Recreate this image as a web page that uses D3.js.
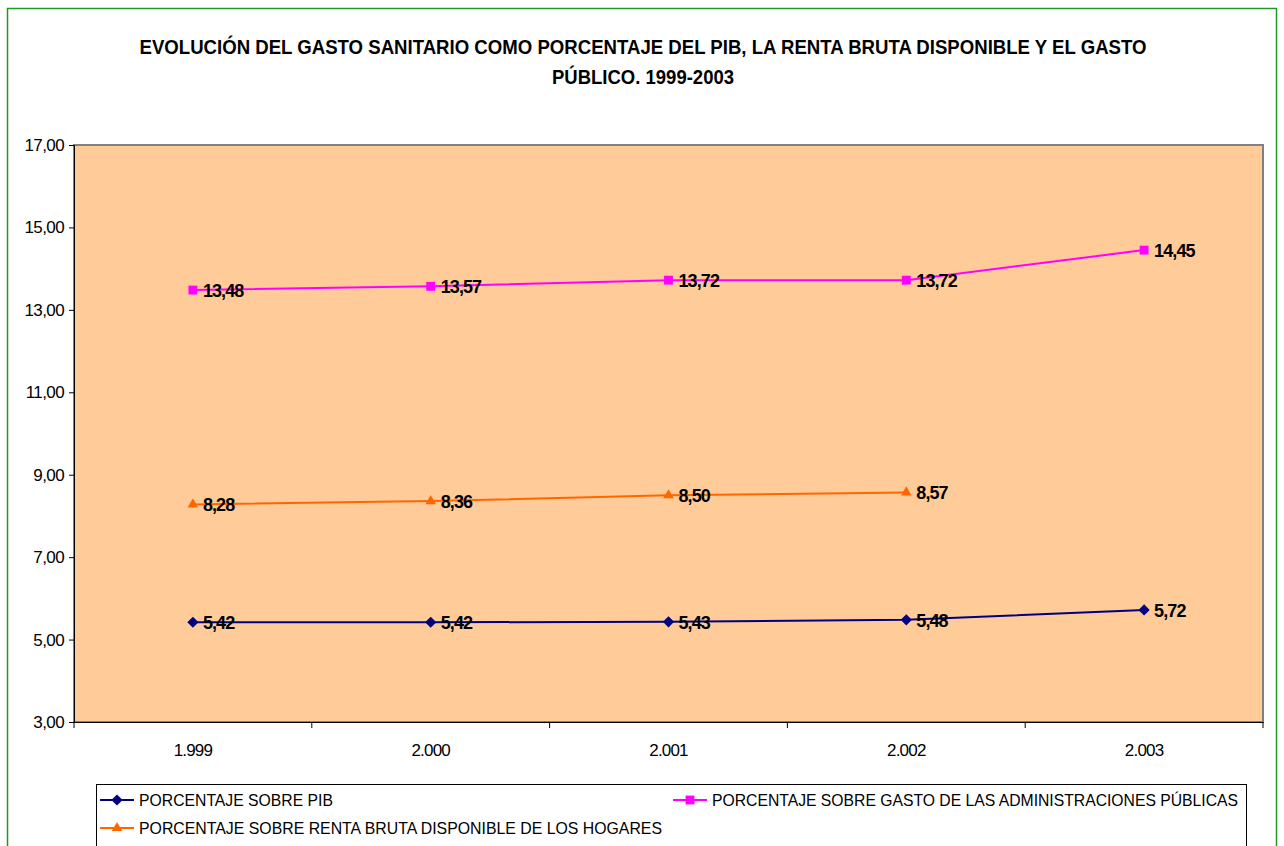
<!DOCTYPE html>
<html><head><meta charset="utf-8">
<script src="https://cdn.jsdelivr.net/npm/d3@7"></script>
<style>body{margin:0;background:#fff}svg{display:block}text{font-family:"Liberation Sans",Arial,sans-serif}</style>
</head><body><svg id="c" width="1284" height="846"></svg>
<script>
const years = ["1.999","2.000","2.001","2.002","2.003"];
const pib = [5.42,5.42,5.43,5.48,5.72];
const gasto = [13.48,13.57,13.72,13.72,14.45];
const renta = [8.28,8.36,8.50,8.57,null];
const yTicks = [3,5,7,9,11,13,15,17];
const titleLines = ["EVOLUCIÓN DEL GASTO SANITARIO COMO PORCENTAJE DEL PIB, LA RENTA BRUTA DISPONIBLE Y EL GASTO","PÚBLICO. 1999-2003"];
const seriesNames = ["PORCENTAJE SOBRE PIB","PORCENTAJE SOBRE GASTO DE LAS ADMINISTRACIONES PÚBLICAS","PORCENTAJE SOBRE RENTA BRUTA DISPONIBLE DE LOS HOGARES"];

const svg = d3.select("#c");
const L=74,T=145,R=1263,B=722;
svg.append("rect").attr("x",7.5).attr("y",8.5).attr("width",1269).attr("height",860).attr("fill","#fff").attr("stroke","#1e9a1e").attr("stroke-width",1.5);

const titleW = [1007,182];
svg.selectAll("text.title").data(titleLines).join("text").attr("class","title")
  .attr("x",643).attr("y",(d,i)=>54+i*30).attr("text-anchor","middle")
  .attr("font-size",20).attr("font-weight","bold")
  .attr("textLength",(d,i)=>titleW[i]).attr("lengthAdjust","spacingAndGlyphs").text(d=>d);

const x = d3.scaleBand().domain(years).range([L,R]);
const y = d3.scaleLinear().domain([3,17]).range([B,T]);
svg.append("rect").attr("x",L).attr("y",T).attr("width",R-L).attr("height",B-T).attr("fill","#FFCC99").attr("stroke","#808080").attr("stroke-width",2);

const ya = svg.append("g").attr("transform",`translate(${L},0)`).call(d3.axisLeft(y).tickValues(yTicks).tickSize(5).tickPadding(5).tickFormat(d=>d3.format(".2f")(d).replace(".",",")));
ya.select(".domain").attr("stroke","#000");
ya.selectAll("text").attr("font-size",17).attr("letter-spacing","-0.6px").attr("fill","#000").attr("font-family","Liberation Sans, Arial, sans-serif");
const xa = svg.append("g").attr("transform",`translate(0,${B})`).call(d3.axisBottom(x).tickSize(0).tickPadding(22));
xa.select(".domain").attr("stroke","#000");
xa.selectAll("text").attr("font-size",17).attr("letter-spacing","-0.8px").attr("fill","#000").attr("font-family","Liberation Sans, Arial, sans-serif");
const bounds = years.map(d=>x(d)).concat([R]);
svg.selectAll("line.xt").data(bounds).join("line").attr("class","xt")
  .attr("x1",d=>d).attr("x2",d=>d).attr("y1",B).attr("y2",B+6).attr("stroke","#000");

const cx = d=>x(d)+x.bandwidth()/2;
const series = [
  {vals:pib,color:"#000080",sym:d3.symbolDiamond2,size:80},
  {vals:gasto,color:"#FF00FF",sym:d3.symbolSquare2,size:100},
  {vals:renta,color:"#FF6600",sym:d3.symbolTriangle2,size:80}
];
const fmt = v=>d3.format(".2f")(v).replace(".",",");
series.forEach(s=>{
  const pts = years.map((yr,i)=>({yr,v:s.vals[i]})).filter(p=>p.v!=null);
  svg.append("path").datum(pts).attr("fill","none").attr("stroke",s.color).attr("stroke-width",2)
    .attr("d",d3.line().x(p=>cx(p.yr)).y(p=>y(p.v)));
  svg.selectAll(null).data(pts).join("path").attr("transform",p=>`translate(${cx(p.yr)},${y(p.v)})`)
    .attr("d",d3.symbol(s.sym,s.size)).attr("fill",s.color);
  svg.selectAll(null).data(pts).join("text").attr("x",p=>cx(p.yr)+10).attr("y",p=>y(p.v)+7)
    .attr("font-size",18).attr("font-weight","bold").attr("letter-spacing","-0.9px").text(p=>fmt(p.v));
});

// legend
const lg = svg.append("g");
lg.append("rect").attr("x",96.5).attr("y",784.5).attr("width",1150).attr("height",62).attr("fill","#fff").attr("stroke","#000");
const items = [
  {s:series[0],name:seriesNames[0],x:100,y:800,w:194},
  {s:series[1],name:seriesNames[1],x:673,y:800,w:526},
  {s:series[2],name:seriesNames[2],x:100,y:828,w:523}
];
items.forEach(it=>{
  lg.append("line").attr("x1",it.x).attr("x2",it.x+34).attr("y1",it.y).attr("y2",it.y).attr("stroke",it.s.color).attr("stroke-width",2);
  lg.append("path").attr("transform",`translate(${it.x+17},${it.y})`).attr("d",d3.symbol(it.s.sym,it.s.size)).attr("fill",it.s.color);
  lg.append("text").attr("x",it.x+39).attr("y",it.y+6).attr("font-size",17)
    .attr("textLength",it.w).attr("lengthAdjust","spacingAndGlyphs").text(it.name);
});
</script></body></html>
